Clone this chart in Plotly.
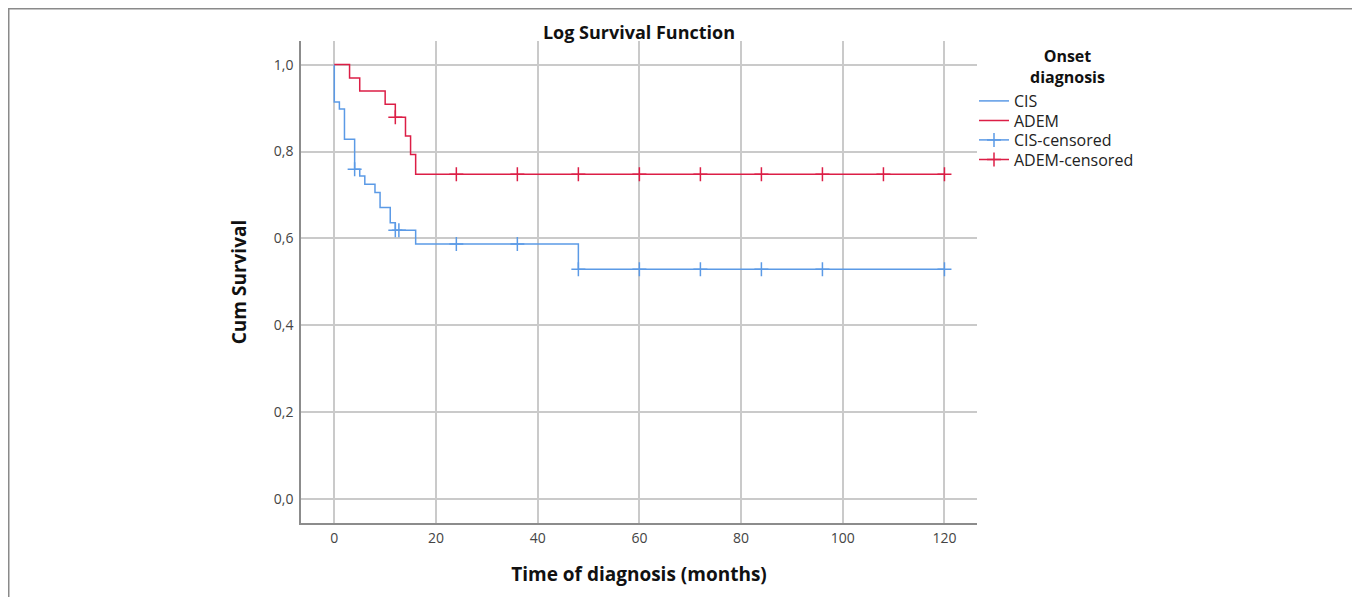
import plotly.graph_objects as go

# ---- data ----
cis_time = [0, 0, 1, 2, 4, 5, 6, 8, 9, 11, 12, 16, 48, 120]
cis_surv = [1.0, 0.914, 0.898, 0.828, 0.759, 0.744, 0.725, 0.706, 0.671, 0.636, 0.619, 0.587, 0.529, 0.529]

adem_time = [0, 3, 5, 10, 12, 14, 15, 16, 120]
adem_surv = [1.0, 0.969, 0.939, 0.909, 0.879, 0.836, 0.793, 0.748, 0.748]

cis_cens_time = [4, 12, 12.7, 24, 36, 48, 60, 72, 84, 96, 120]
cis_cens_surv = [0.759, 0.619, 0.619, 0.587, 0.587, 0.529, 0.529, 0.529, 0.529, 0.529, 0.529]

adem_cens_time = [12, 24, 36, 48, 60, 72, 84, 96, 108, 120]
adem_cens_surv = [0.879, 0.748, 0.748, 0.748, 0.748, 0.748, 0.748, 0.748, 0.748, 0.748]

x_ticks = [0, 20, 40, 60, 80, 100, 120]
y_ticks = [0.0, 0.2, 0.4, 0.6, 0.8, 1.0]

BLUE = "#5b9ae6"
RED = "#dc1e46"

# page body has an 8px margin: work in screen pixels and subtract it
OFF = 8
W, H = 1360 - OFF, 597 - OFF
L = 301 - OFF
T = 41 - OFF
RIGHT = 977 - OFF
BOTTOM = 523 - OFF
R, B = W - RIGHT, H - BOTTOM
pw, ph = RIGHT - L, BOTTOM - T


def px_x(p):  # screen px -> paper x
    return (p - OFF - L) / pw


def px_y(p):  # screen px -> paper y
    return (BOTTOM - (p - OFF)) / ph


def isolated(xs, ys):
    """insert gaps so the censor markers are not joined by lines"""
    ox, oy = [], []
    for a, b in zip(xs, ys):
        ox += [a, None]
        oy += [b, None]
    return ox, oy


fig = go.Figure()
fig.add_trace(go.Scatter(x=cis_time, y=cis_surv, mode="lines", name="CIS",
                         legend="legend",
                         line=dict(color=BLUE, width=1.5, shape="hv")))
fig.add_trace(go.Scatter(x=adem_time, y=adem_surv, mode="lines", name="ADEM",
                         legend="legend2",
                         line=dict(color=RED, width=1.5, shape="hv")))
cx, cy = isolated(cis_cens_time, cis_cens_surv)
fig.add_trace(go.Scatter(x=cx, y=cy, mode="lines+markers", name="CIS-censored",
                         legend="legend3", connectgaps=False,
                         line=dict(color=BLUE, width=1.5),
                         marker=dict(symbol="cross-thin", size=10,
                                     line=dict(color=BLUE, width=1.5))))
ax, ay = isolated(adem_cens_time, adem_cens_surv)
fig.add_trace(go.Scatter(x=ax, y=ay, mode="lines+markers", name="ADEM-censored",
                         legend="legend4", connectgaps=False,
                         line=dict(color=RED, width=1.5),
                         marker=dict(symbol="cross-thin", size=10,
                                     line=dict(color=RED, width=1.5))))


def leg(y_screen):
    return dict(x=px_x(974), y=px_y(y_screen), xanchor="left", yanchor="middle",
                bgcolor="rgba(0,0,0,0)", borderwidth=0,
                font=dict(size=16, color="#222"), itemwidth=30)


fig.update_layout(
    width=W, height=H,
    margin=dict(l=L, r=R, t=T, b=B, autoexpand=False),
    paper_bgcolor="white", plot_bgcolor="white",
    separators=",.",
    font=dict(family="Open Sans, DejaVu Sans, sans-serif", color="#222"),
    title=dict(text="<b>Log Survival Function</b>", x=0.5, xref="paper",
               xanchor="center", y=1 - (33 - OFF) / H, yref="container",
               yanchor="middle", font=dict(size=18, color="#111")),
    showlegend=True,
    legend=leg(101),
    legend2=leg(120.5),
    legend3=leg(140),
    legend4=leg(159.5),
    annotations=[dict(text="<b>Onset<br>diagnosis</b>", xref="paper", yref="paper",
                      x=px_x(1067), y=px_y(66), xanchor="center", yanchor="middle",
                      align="center", showarrow=False,
                      font=dict(size=16, color="#111"))],
    shapes=[dict(type="rect", xref="paper", yref="paper",
                 x0=px_x(8.75), x1=px_x(1355.5), y0=px_y(620), y1=px_y(8.75),
                 line=dict(color="#8a8a8a", width=1.5), layer="below")],
)

tick_font = dict(family="Open Sans, DejaVu Sans, sans-serif", size=14, color="#444")

fig.update_xaxes(
    range=[-6.55, 126.4], tickvals=x_ticks, ticks="",
    showgrid=True, gridcolor="#cacaca", gridwidth=1.5,
    zeroline=False, showline=True, linecolor="#8c8c8c", linewidth=1.5,
    tickfont=tick_font, ticklabelstandoff=1,
    title=dict(text="<b>Time of diagnosis (months)</b>", standoff=22,
               font=dict(size=19, color="#111")),
)
fig.update_yaxes(
    range=[-0.0546, 1.0543], tickvals=y_ticks, tickformat=".1f", ticks="",
    showgrid=True, gridcolor="#cacaca", gridwidth=1.5,
    zeroline=False, showline=True, linecolor="#8c8c8c", linewidth=1.5,
    tickfont=tick_font, ticklabelstandoff=3,
    title=dict(text="<b>Cum Survival</b>", standoff=22,
               font=dict(size=19, color="#111")),
)

fig.write_html("out.html")
